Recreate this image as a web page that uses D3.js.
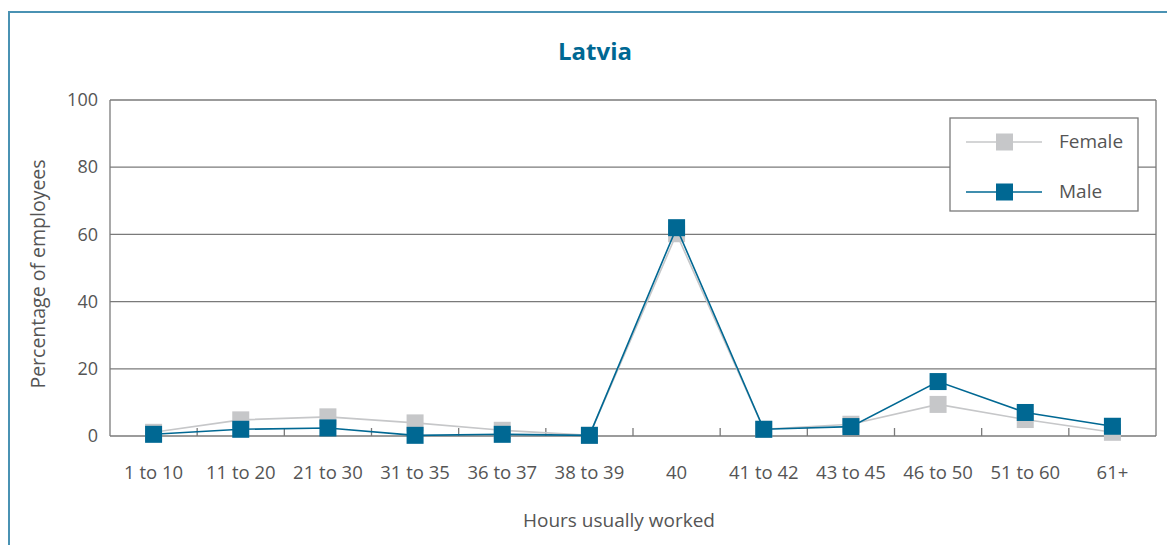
<!DOCTYPE html>
<html><head><meta charset="utf-8">
<script src="https://cdn.jsdelivr.net/npm/d3@7"></script>
<style>body{margin:0;background:#fff}svg{display:block}text{font-family:"Open Sans","Noto Sans",sans-serif}</style>
</head><body><svg id="c" width="1167" height="545"></svg>
<script>
const categories = ["1 to 10","11 to 20","21 to 30","31 to 35","36 to 37","38 to 39","40","41 to 42","43 to 45","46 to 50","51 to 60","61+"];
const female = [1.1, 4.8, 5.7, 3.9, 1.7, 0.2, 60.2, 2.0, 3.5, 9.4, 4.9, 1.1];
const male   = [0.5, 2.0, 2.4, 0.2, 0.5, 0.2, 62.0, 2.0, 2.8, 16.2, 7.0, 2.9];
const yTicks = [0, 20, 40, 60, 80, 100];
const seriesNames = ["Female", "Male"];
const colors = ["#c6c7c9", "#006893"];

const svg = d3.select("#c");
const L = 110, R = 1156, T = 100, B = 436;
const x = d3.scaleBand().domain(categories).range([L, R]);
const y = d3.scaleLinear().domain([0, 100]).range([B, T]);
const FONT = '"Open Sans","Noto Sans",sans-serif';

// outer frame
svg.append("path").attr("d", `M9,545 V12 H1167`).attr("fill","none").attr("stroke","#4a92b3").attr("stroke-width",2);

// title
svg.append("text").attr("x", 595).attr("y", 60).attr("text-anchor","middle")
  .attr("font-size", 24).attr("font-weight", "bold").attr("fill", "#006893").text("Latvia");

// grid
const grid = svg.append("g");
grid.selectAll("line").data(yTicks).join("line")
  .attr("x1", L).attr("x2", R).attr("y1", d => y(d)).attr("y2", d => y(d))
  .attr("stroke", "#7a7a7a").attr("stroke-width", 1.3);
svg.append("line").attr("x1", L).attr("x2", L).attr("y1", T).attr("y2", B).attr("stroke","#7a7a7a").attr("stroke-width",1.3);
svg.append("line").attr("x1", R).attr("x2", R).attr("y1", T).attr("y2", B).attr("stroke","#7a7a7a").attr("stroke-width",1.3);

// y axis labels
const yAxis = d3.axisLeft(y).tickValues(yTicks).tickSize(0).tickPadding(12);
const gy = svg.append("g").attr("transform", `translate(${L},0)`).call(yAxis);
gy.select(".domain").remove();
gy.selectAll("text").attr("font-size", 18).attr("fill", "#555").style("font-family", FONT);

// x axis
const xAxis = d3.axisBottom(x).tickSize(0).tickPadding(30);
const gx = svg.append("g").attr("transform", `translate(0,${B})`).call(xAxis);
gx.select(".domain").remove();
gx.selectAll("text").attr("font-size", 18.5).attr("fill", "#555").style("font-family", FONT);
// band boundary ticks (inward)
const bounds = categories.slice(1).map(c => x(c));
svg.append("g").selectAll("line").data(bounds).join("line")
  .attr("x1", d => d).attr("x2", d => d).attr("y1", B).attr("y2", B - 8)
  .attr("stroke", "#7a7a7a").attr("stroke-width", 1.3);

// axis titles
svg.append("text").attr("transform", `translate(45,${(T+B)/2 + 6}) rotate(-90)`).attr("text-anchor","middle")
  .attr("font-size", 19.5).attr("fill", "#555").text("Percentage of employees");
svg.append("text").attr("x", 619).attr("y", 527).attr("text-anchor","middle")
  .attr("font-size", 19).attr("fill", "#555").text("Hours usually worked");

// series
const cx = c => x(c) + x.bandwidth() / 2;
const line = d3.line().x(d => cx(d.c)).y(d => y(d.v));
[female, male].forEach((vals, i) => {
  const data = categories.map((c, j) => ({c, v: vals[j]}));
  const g = svg.append("g");
  g.append("path").datum(data).attr("d", line).attr("fill","none").attr("stroke", colors[i]).attr("stroke-width", 1.6);
  g.selectAll("rect").data(data).join("rect")
    .attr("x", d => cx(d.c) - 8.5).attr("y", d => y(d.v) - 8.5).attr("width", 17).attr("height", 17)
    .attr("fill", colors[i]);
});

// legend
const lg = svg.append("g");
lg.append("rect").attr("x", 950).attr("y", 118).attr("width", 188).attr("height", 93)
  .attr("fill", "#fff").attr("stroke", "#7a7a7a").attr("stroke-width", 1.3);
seriesNames.forEach((n, i) => {
  const yy = 142 + i * 50;
  lg.append("line").attr("x1", 966).attr("x2", 1042).attr("y1", yy).attr("y2", yy).attr("stroke", colors[i]).attr("stroke-width", 1.6);
  lg.append("rect").attr("x", 996).attr("y", yy - 8.5).attr("width", 17).attr("height", 17).attr("fill", colors[i]);
  lg.append("text").attr("x", 1059).attr("y", yy + 6).attr("font-size", 19).attr("fill", "#555").text(n);
});
</script></body></html>
